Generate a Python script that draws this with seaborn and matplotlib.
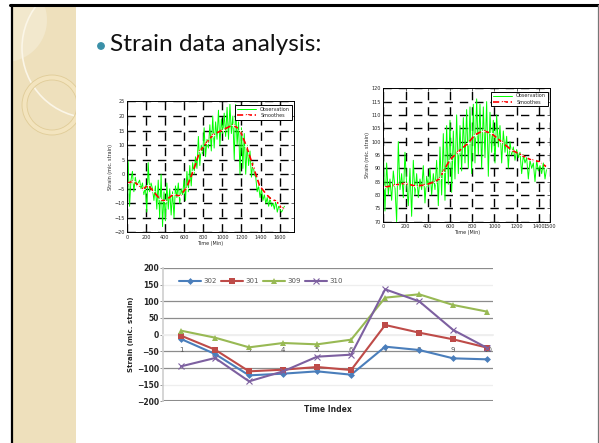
import numpy as np
import pandas as pd
import seaborn as sns
import matplotlib.pyplot as plt
from matplotlib.patches import Rectangle, Circle, Wedge

# ---- left chart: observation (sampled every 15 min) + smoothed
obs1_step = 15
obs1 = [-3, 4.5, -11, -2, 1, -6, -1, -4, -3, -2,
        -5, -3, -7, -4, -13, 4, -6, -3, -5, -9,
        -4, -12, -2, -15, 0, -18, -6, -16, -3, -12,
        -5, -14, -6, -15, -4, -8, -3, -10, -5, -7,
        -2, -9, 1, -6, 3, -4, 4, 0, 6, 2,
        13, 3, 10, 7, 16, 6, 12, 9, 17, 8,
        20, 9, 18, 12, 22, 10, 19, 14, 21, 13,
        23, 12, 24, 14, 20, 5, 24, 10, 18, 0,
        16, 2, 14, 0, 10, 3, 8, -1, 4, 0,
        -1, -6, -4, -8, -5, -9, -7, -10, -8, -11,
        -8, -11, -10, -12, -9, -13, -11, -12, -13, -12, -11]
smooth1_t = [7, 70, 122, 174, 226, 278, 348, 400, 487, 557, 626, 696, 765, 835,
             904, 1009, 1113, 1183, 1252, 1322, 1391, 1461, 1513, 1565, 1617, 1650]
smooth1_v = [-3.1, -2.3, -3.8, -5, -3.8, -5.8, -8.6, -9.2, -6.9, -7.5, -4.6, 1.1, 7.9, 10.8,
             13.6, 15.3, 17.0, 15.3, 9.7, 2.8, -4.0, -6.9, -8.6, -9.2, -11.5, -12]

# ---- right chart
obs2_step = 15
obs2 = [97, 74, 92, 80, 86, 78, 89, 83, 70, 100,
        82, 88, 79, 96, 84, 76, 90, 72, 93, 80,
        88, 79, 86, 82, 91, 77, 87, 83, 90, 80,
        88, 82, 93, 76, 98, 80, 103, 78, 106, 84,
        108, 81, 104, 86, 110, 88, 106, 89, 109, 92,
        112, 90, 113, 88, 114, 92, 116, 95, 114, 90,
        113, 94, 115, 87, 111, 96, 108, 92, 110, 98,
        106, 92, 104, 96, 102, 90, 100, 95, 98, 93,
        97, 94, 96, 88, 95, 92, 94, 86, 93, 90,
        92, 85, 93, 89, 91, 88, 92, 86, 90]
smooth2_t = [9, 105, 194, 284, 374, 464, 509, 538, 598, 673, 763, 823, 897, 972,
             1062, 1152, 1241, 1331, 1406, 1466]
smooth2_v = [82.9, 83.7, 84.4, 83.4, 83.7, 85, 86.2, 88.7, 93.1, 96.2, 99.4, 102.5, 104.1, 103.1,
             100, 96.9, 95, 93.1, 92.5, 90.6]

# ---- bottom chart: strain per time index
time_index = [1, 2, 3, 4, 5, 6, 7, 8, 9, 10]
s302 = [-13, -58, -122, -117, -110, -120, -36, -46, -71, -74]
s301 = [-3, -45, -110, -105, -97, -106, 29, 6, -14, -39]
s309 = [12, -9, -38, -25, -29, -15, 111, 121, 89, 69]
s310 = [-95, -70, -140, -110, -66, -60, 136, 100, 14, -40]

sns.set_theme(style='white')
plt.rcParams['font.family'] = ['DejaVu Sans']

fig = plt.figure(figsize=(5.99, 4.43), dpi=100)

# slide background
bg = fig.add_axes([0, 0, 1, 1])
bg.set_xlim(0, 599)
bg.set_ylim(443, 0)
bg.axis('off')
band = Rectangle((12, 5), 64, 440, facecolor='#EEE0BC', edgecolor='none', zorder=0)
bg.add_patch(band)
c0 = Circle((5, 20), 42, facecolor='#F2E8CD', edgecolor='none', zorder=0.5)
bg.add_patch(c0)
c0.set_clip_path(band)
c1 = Circle((92, 48), 70, facecolor='none', edgecolor='#FBF6E8', lw=1.2, zorder=1)
bg.add_patch(c1)
c1.set_clip_path(band)
ring = Wedge((52, 105), 30, 0, 360, width=5, facecolor='#F3E4BE', edgecolor='#E0CC98', lw=0.6, zorder=1)
bg.add_patch(ring)
ring.set_clip_path(band)
bg.plot([10, 599], [5, 5], color='black', lw=2.2)
bg.plot([11.5, 11.5], [5, 443], color='black', lw=1.6)
bg.plot([597.5, 597.5], [5, 443], color='#777777', lw=0.9)
bg.add_patch(Circle((101, 46), 3.2, color='#3A90A8', zorder=2))
bg.text(110, 44, 'Strain data analysis:', fontsize=17.6, family=['Lato', 'DejaVu Sans'],
        va='center', ha='left', color='#111111')


def matlab_chart(rect, t_obs, v_obs, t_s, v_s, xlim, xticks, ylim, yticks):
    ax = fig.add_axes(rect)
    sns.lineplot(x=t_obs, y=v_obs, ax=ax, color='#00FF00', lw=0.7, label='Observation')
    sns.lineplot(x=t_s, y=v_s, ax=ax, color='#FF0000', lw=1.2, ls='--',
                 marker='+', markersize=2.5, markeredgewidth=0.6, label='Smoothes')
    ax.set_xlim(*xlim)
    ax.set_ylim(*ylim)
    ax.set_xticks(xticks)
    ax.set_yticks(yticks)
    ax.grid(True, color='black', ls=(0, (6, 5)), lw=1.0)
    ax.tick_params(direction='in', length=2, width=0.5, labelsize=3.5, pad=1.5,
                   top=True, right=True, bottom=True, left=True)
    for s in ax.spines.values():
        s.set_color('black')
        s.set_linewidth(0.7)
    ax.set_xlabel('Time (Min)', fontsize=3.5, labelpad=1)
    ax.set_ylabel('Strain (mic. strain)', fontsize=3.5, labelpad=1)
    leg = ax.legend(loc='upper right', bbox_to_anchor=(1.0, 0.99), fontsize=3.5,
                    fancybox=False, framealpha=1, edgecolor='black',
                    borderpad=0.3, handlelength=4, labelspacing=0.3)
    leg.get_frame().set_linewidth(0.7)
    return ax


t1 = np.arange(len(obs1)) * obs1_step
matlab_chart([0.2115, 0.4752, 0.2793, 0.2957], t1, obs1, smooth1_t, smooth1_v,
             (0, 1750), range(0, 1601, 200), (-20, 25), range(-20, 26, 5))
t2 = np.arange(len(obs2)) * obs2_step
matlab_chart([0.6399, 0.4996, 0.2783, 0.3012], t2, obs2, smooth2_t, smooth2_v,
             (0, 1500), list(range(0, 1401, 200)) + [1500], (70, 120), range(70, 121, 5))

# bottom excel-style chart
df = pd.DataFrame({
    'time': time_index * 4,
    'strain': s302 + s301 + s309 + s310,
    'sensor': ['302'] * 10 + ['301'] * 10 + ['309'] * 10 + ['310'] * 10,
})
ax3 = fig.add_axes([0.2721, 0.0940, 0.5504, 0.3011])
pal = {'302': '#4A7EBB', '301': '#BE4B48', '309': '#98B954', '310': '#7D60A0'}
mk = {'302': 'D', '301': 's', '309': '^', '310': 'x'}
msz = {'302': 3.5, '301': 5, '309': 5, '310': 4.5}
for y in range(-200, 201, 50):
    c = '#EEEEEE' if y in (150, 0, -150) else '#8C8C8C'
    ax3.axhline(y, color=c, lw=0.9 if y != -200 else 2.2, zorder=0)
for name, grp in df.groupby('sensor', sort=False):
    sns.lineplot(data=grp, x='time', y='strain', color=pal[name], marker=mk[name],
                 lw=1.5, markersize=msz[name], markeredgewidth=0.8 if name == '310' else 0,
                 markeredgecolor=pal[name], label=name, ax=ax3, zorder=3)
ax3.set_xlim(0.47, 10.16)
ax3.set_ylim(-200, 200)
ax3.set_yticks(range(-200, 201, 50))
ax3.set_xticks(time_index)
ax3.spines['top'].set_visible(False)
ax3.spines['right'].set_visible(False)
ax3.spines['left'].set_color('#D0D0D0')
ax3.spines['bottom'].set_position(('data', 0))
ax3.spines['bottom'].set_color('#EEEEEE')
ax3.tick_params(axis='y', left=True, length=2, width=0.6, color='#888888',
                labelsize=5.5, pad=1)
ax3.tick_params(axis='x', bottom=False, labelsize=5, labelcolor='#555555', pad=3)
for lab in ax3.get_yticklabels():
    lab.set_fontweight('bold')
ax3.set_xlabel('Time Index', fontsize=5.5, fontweight='bold', labelpad=37)
ax3.set_ylabel('Strain (mic. strain)', fontsize=5, fontweight='bold', labelpad=2)
ax3.legend(loc='upper left', bbox_to_anchor=(0.03, 0.97), ncol=4, frameon=False,
           fontsize=5, handlelength=3.2, columnspacing=0.6, handletextpad=0.3,
           labelcolor='#555555')

fig.savefig('out.png', dpi=100)
